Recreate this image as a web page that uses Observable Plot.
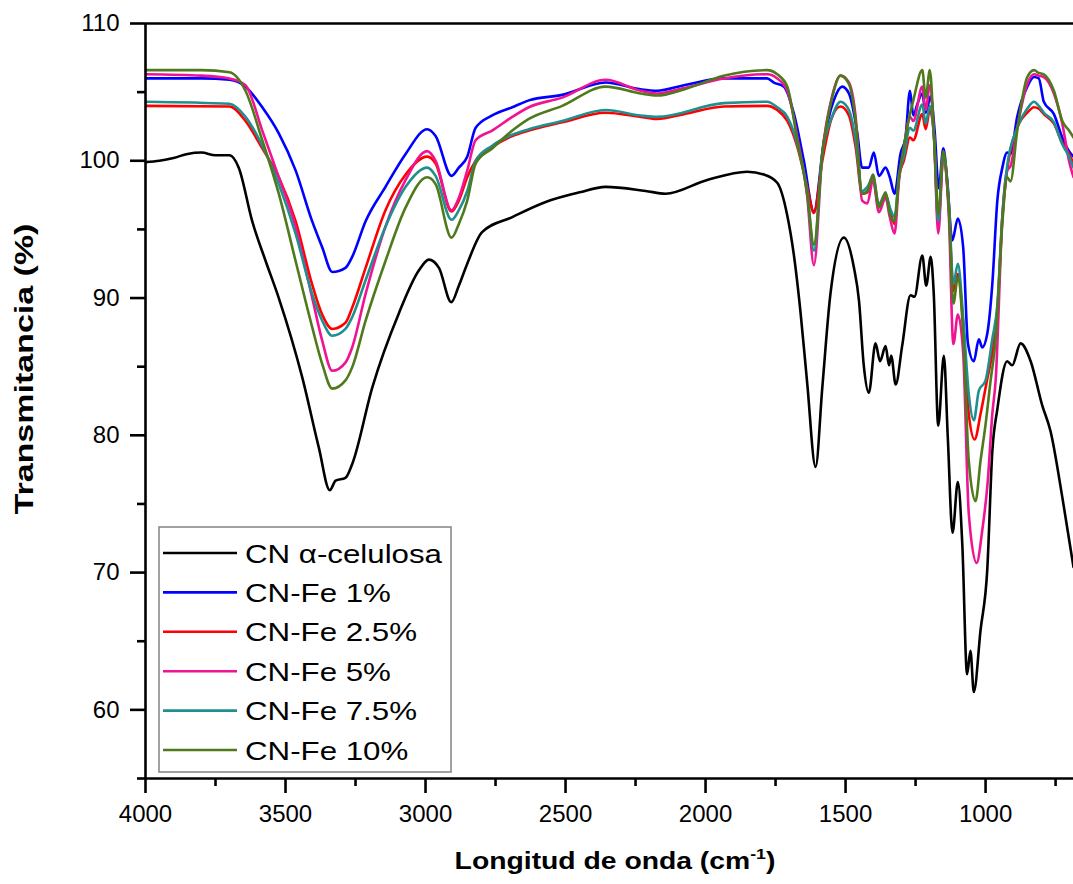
<!DOCTYPE html>
<html>
<head>
<meta charset="utf-8">
<script src="https://cdn.jsdelivr.net/npm/d3@7"></script>
<script src="https://cdn.jsdelivr.net/npm/@observablehq/plot@0.6"></script>
<style>
  html, body { margin: 0; padding: 0; background: #fff; }
  #chart svg { display: block; }
</style>
</head>
<body>
<div id="chart"></div>
<script>
// ---- Data (wavenumber cm-1, transmittance %) ----
const seriesNames = ["CN α-celulosa", "CN-Fe 1%", "CN-Fe 2.5%", "CN-Fe 5%", "CN-Fe 7.5%", "CN-Fe 10%"];
const seriesColors = ["#000000", "#0000ff", "#ff0000", "#f01493", "#1f8f8f", "#4f7a1c"];

const cnCelulosa = [[4000,99.9],[3950,100.0],[3900,100.2],[3850,100.5],[3800,100.6],[3750,100.4],[3700,100.4],[3667,99.5],[3619,95.6],[3571,92.7],[3524,90.0],[3440,84.2],[3381,79.1],[3342,76.0],[3321,76.7],[3286,76.9],[3262,77.9],[3190,83.5],[3095,88.9],[3024,92.0],[2988,92.8],[2952,92.2],[2908,89.7],[2881,90.9],[2851,92.5],[2798,94.8],[2690,95.9],[2571,97.0],[2450,97.7],[2357,98.1],[2214,97.8],[2143,97.6],[1994,98.6],[1851,99.2],[1792,99.0],[1744,98.4],[1708,96.0],[1685,93.2],[1661,89.0],[1637,83.8],[1607,77.7],[1583,83.5],[1554,90.3],[1506,94.4],[1470,92.2],[1452,89.8],[1435,85.1],[1417,83.1],[1393,86.7],[1377,85.4],[1357,86.5],[1345,85.1],[1337,85.8],[1321,83.7],[1298,86.5],[1268,90.2],[1254,90.1],[1226,93.1],[1212,90.9],[1196,93.0],[1185,90.3],[1169,80.7],[1149,85.8],[1135,79.9],[1118,72.9],[1099,76.6],[1083,72.0],[1066,62.6],[1054,64.3],[1042,61.3],[1018,65.8],[994,70.2],[976,78.8],[958,81.9],[923,85.4],[905,85.1],[875,86.7],[839,85.4],[798,82.2],[768,80.3],[726,75.5],[686,70.4]];

const cnFe1 = [[4000,106.0],[3800,106.0],[3700,105.9],[3643,105.4],[3583,103.9],[3524,102.0],[3464,99.3],[3405,95.6],[3369,93.7],[3333,91.9],[3286,92.2],[3262,93.0],[3214,95.6],[3143,98.1],[3071,100.5],[2994,102.3],[2964,101.8],[2907,98.9],[2881,99.5],[2851,100.3],[2821,102.4],[2762,103.3],[2690,103.9],[2631,104.4],[2512,104.8],[2357,105.7],[2232,105.2],[2173,105.1],[2077,105.5],[1935,106.0],[1780,106.0],[1756,105.7],[1720,105.4],[1684,103.4],[1649,100.0],[1613,96.3],[1577,101.5],[1542,104.4],[1512,105.4],[1488,104.9],[1458,102.0],[1441,99.5],[1417,99.5],[1399,100.6],[1381,98.9],[1357,99.5],[1342,98.8],[1325,97.6],[1304,100.5],[1286,101.7],[1270,105.1],[1258,103.3],[1244,104.1],[1226,104.9],[1214,103.5],[1196,104.7],[1182,102.2],[1167,98.0],[1151,100.9],[1137,98.6],[1119,94.2],[1099,95.8],[1080,93.7],[1063,86.7],[1042,85.4],[1024,87.0],[1012,86.4],[994,87.4],[976,91.0],[958,97.1],[940,99.5],[923,100.6],[911,100.5],[887,103.2],[851,105.4],[827,106.1],[810,106.0],[792,104.3],[756,103.4],[726,101.7],[702,100.7],[686,100.3]];

const cnFe25 = [[4000,104.0],[3700,103.95],[3643,102.9],[3583,100.9],[3524,98.8],[3464,95.6],[3405,91.0],[3369,88.8],[3333,87.75],[3286,88.2],[3262,89.3],[3214,92.2],[3143,96.4],[3071,99.0],[2994,100.3],[2964,99.8],[2907,96.3],[2881,97.1],[2851,98.8],[2821,100.0],[2762,101.0],[2690,101.8],[2631,102.2],[2512,102.8],[2357,103.5],[2232,103.2],[2173,103.05],[2077,103.4],[1935,103.95],[1780,104.0],[1744,103.7],[1708,102.9],[1672,101.0],[1637,98.1],[1613,96.2],[1583,100.0],[1548,103.2],[1518,103.95],[1488,103.3],[1464,101.0],[1441,97.6],[1422,97.7],[1402,98.7],[1381,96.6],[1357,97.5],[1342,96.5],[1325,95.4],[1309,98.9],[1292,100.0],[1270,101.7],[1258,101.5],[1226,103.4],[1214,102.3],[1199,103.7],[1184,101.7],[1169,95.4],[1151,100.3],[1131,96.6],[1115,90.5],[1099,91.75],[1080,88.1],[1060,81.55],[1039,79.7],[1018,81.55],[995,84.0],[976,86.0],[958,89.0],[940,95.9],[923,99.3],[887,102.4],[851,103.5],[827,103.9],[810,103.8],[792,103.4],[756,102.7],[726,101.3],[702,100.5],[686,99.8]];

const cnFe5 = [[4000,106.3],[3800,106.2],[3700,106.0],[3643,105.5],[3583,102.2],[3524,98.8],[3464,95.2],[3405,90.05],[3369,86.9],[3333,84.7],[3286,85.3],[3262,86.4],[3214,90.3],[3143,95.2],[3071,98.6],[2994,100.7],[2964,100.0],[2907,96.4],[2881,97.3],[2851,99.3],[2821,101.5],[2762,102.2],[2690,103.2],[2631,103.9],[2512,104.6],[2357,105.9],[2232,105.1],[2173,104.9],[2077,105.3],[1935,106.0],[1780,106.3],[1744,106.0],[1708,105.1],[1672,101.7],[1637,97.4],[1613,92.4],[1583,100.5],[1548,104.7],[1518,106.2],[1488,105.7],[1464,103.2],[1441,97.1],[1422,96.9],[1402,98.6],[1381,96.25],[1357,97.3],[1342,95.9],[1325,94.7],[1309,98.6],[1292,100.8],[1270,103.2],[1258,102.9],[1226,105.4],[1214,103.7],[1199,105.5],[1184,101.7],[1169,94.7],[1151,100.3],[1131,95.9],[1115,86.65],[1099,88.8],[1080,86.0],[1060,74.3],[1032,70.7],[1012,73.05],[992,76.7],[976,81.55],[964,84.0],[940,95.9],[923,99.3],[911,99.6],[887,102.4],[851,105.6],[827,106.3],[810,106.2],[792,106.1],[756,104.9],[726,102.7],[702,100.0],[686,98.8]];

const cnFe75 = [[4000,104.3],[3700,104.15],[3643,103.2],[3583,101.1],[3524,98.3],[3464,94.7],[3405,90.3],[3369,88.35],[3333,87.25],[3286,87.75],[3262,88.6],[3214,91.3],[3143,95.2],[3071,98.1],[2994,99.5],[2964,98.9],[2907,95.7],[2881,96.4],[2851,97.8],[2821,100.0],[2762,101.1],[2690,101.9],[2631,102.3],[2512,102.9],[2357,103.7],[2232,103.3],[2173,103.2],[1935,104.2],[1780,104.3],[1744,103.9],[1708,103.2],[1672,101.2],[1637,97.8],[1613,93.45],[1583,100.5],[1548,103.2],[1518,104.3],[1488,103.7],[1464,101.5],[1441,97.8],[1422,98.1],[1402,98.8],[1381,96.85],[1357,97.6],[1342,96.6],[1325,95.9],[1309,99.0],[1292,100.3],[1270,102.4],[1258,102.2],[1226,104.1],[1214,102.7],[1199,104.0],[1184,101.7],[1169,95.6],[1151,100.5],[1131,96.8],[1115,91.0],[1099,92.5],[1080,88.6],[1060,83.0],[1042,81.1],[1024,83.25],[1000,84.0],[976,87.0],[958,89.5],[940,96.0],[923,99.6],[887,102.4],[851,103.8],[827,104.3],[810,104.0],[792,103.5],[756,102.8],[726,101.2],[702,100.3],[686,99.5]];

const cnFe10 = [[4000,106.6],[3800,106.6],[3700,106.45],[3643,105.1],[3583,101.5],[3524,97.6],[3464,92.7],[3405,87.9],[3369,85.2],[3333,83.4],[3286,84.0],[3262,84.95],[3214,88.35],[3143,92.7],[3071,96.6],[2994,98.8],[2964,98.3],[2907,94.4],[2881,95.4],[2851,97.1],[2821,99.8],[2762,100.9],[2690,102.2],[2631,103.05],[2512,104.0],[2357,105.4],[2232,104.9],[2173,104.75],[2077,105.2],[1935,106.2],[1780,106.6],[1744,106.3],[1708,105.4],[1672,101.5],[1637,97.6],[1613,93.9],[1583,100.5],[1548,104.6],[1518,106.2],[1488,105.6],[1464,102.9],[1441,97.6],[1422,97.8],[1402,99.0],[1381,96.6],[1357,97.7],[1342,96.1],[1325,95.6],[1309,98.8],[1292,101.0],[1270,103.4],[1258,104.4],[1226,106.6],[1214,104.6],[1199,106.6],[1184,101.7],[1169,96.1],[1151,100.7],[1131,96.4],[1115,89.6],[1099,91.5],[1080,87.4],[1060,78.15],[1036,75.2],[1018,78.15],[1000,80.8],[982,84.0],[964,87.0],[940,95.5],[923,98.8],[911,98.5],[887,102.2],[851,106.1],[827,106.6],[810,106.4],[792,106.3],[756,105.1],[726,102.9],[702,102.2],[686,101.7]];

const xMajorTicks = [4000, 3500, 3000, 2500, 2000, 1500, 1000];
const xMinorTicks = [3750, 3250, 2750, 2250, 1750, 1250, 750];
const yMajorTicks = [60, 70, 80, 90, 100, 110];
const yMinorTicks = [55, 65, 75, 85, 95, 105];
const xTitle = "Longitud de onda (cm";
const xTitleSup = "-1";
const yTitle = "Transmitancia (%)";

// ---- Build table ----
const allSeries = [cnCelulosa, cnFe1, cnFe25, cnFe5, cnFe75, cnFe10];
const rows = allSeries.flatMap((arr, i) => arr.map(([wn, t]) => ({wn, t, series: seriesNames[i]})));

const font = "'Liberation Sans', Arial, Helvetica, sans-serif";

const chart = Plot.plot({
  width: 1073,
  height: 884,
  marginLeft: 145,
  marginRight: 0,
  marginTop: 23,
  marginBottom: 106,
  style: {fontFamily: font, fontSize: "24px", color: "#000", background: "#fff", overflow: "visible"},
  x: {domain: [4000, 686], label: null},
  y: {domain: [55, 110], label: null},
  color: {domain: seriesNames, range: seriesColors},
  marks: [
    Plot.line(rows, {x: "wn", y: "t", z: "series", stroke: "series", strokeWidth: 2.6, curve: "monotone-x", clip: true}),
    Plot.ruleY([55, 110], {stroke: "#000", strokeWidth: 2.6}),
    Plot.ruleX([4000], {stroke: "#000", strokeWidth: 2.6}),
    Plot.axisX({ticks: xMajorTicks, tickSize: 15, tickPadding: 11, tickFormat: d => String(d), strokeWidth: 2.6, fontSize: 24, label: null}),
    Plot.axisX({ticks: xMinorTicks, tickSize: 8, tickFormat: () => "", strokeWidth: 2.6, label: null}),
    Plot.axisY({ticks: yMajorTicks, tickSize: 15, tickPadding: 11, tickFormat: d => String(d), strokeWidth: 2.6, fontSize: 24, label: null}),
    Plot.axisY({ticks: yMinorTicks, tickSize: 8, tickFormat: () => "", strokeWidth: 2.6, label: null})
  ]
});

document.getElementById("chart").appendChild(chart);

const svg = d3.select(chart);

// Axis titles
const xt = svg.append("text")
  .attr("transform", "translate(615,869) scale(1.18,1)")
  .attr("text-anchor", "middle")
  .attr("font-family", font)
  .attr("font-weight", "bold")
  .attr("font-size", 24)
  .attr("fill", "#000");
xt.append("tspan").text(xTitle);
xt.append("tspan").attr("dy", -10).attr("font-size", 15).text(xTitleSup);
xt.append("tspan").attr("dy", 10).text(")");

svg.append("text")
  .attr("transform", "translate(33,369) rotate(-90) scale(1.36,1)")
  .attr("text-anchor", "middle")
  .attr("font-family", font)
  .attr("font-weight", "bold")
  .attr("font-size", 25)
  .attr("fill", "#000")
  .text(yTitle);

// Legend
const lg = svg.append("g");
lg.append("rect")
  .attr("x", 159).attr("y", 527).attr("width", 292).attr("height", 245)
  .attr("fill", "#fff").attr("stroke", "#8a8a8a").attr("stroke-width", 1.6);
seriesNames.forEach((name, i) => {
  const cy = 553 + i * 39.4;
  lg.append("line")
    .attr("x1", 163).attr("x2", 237).attr("y1", cy).attr("y2", cy)
    .attr("stroke", seriesColors[i]).attr("stroke-width", 2.6);
  lg.append("text")
    .attr("transform", `translate(245,${cy + 9.5}) scale(1.18,1)`)
    .attr("text-anchor", "start")
    .attr("font-family", font)
    .attr("font-size", 26.5)
    .attr("fill", "#000")
    .text(name);
});
</script>
</body>
</html>
